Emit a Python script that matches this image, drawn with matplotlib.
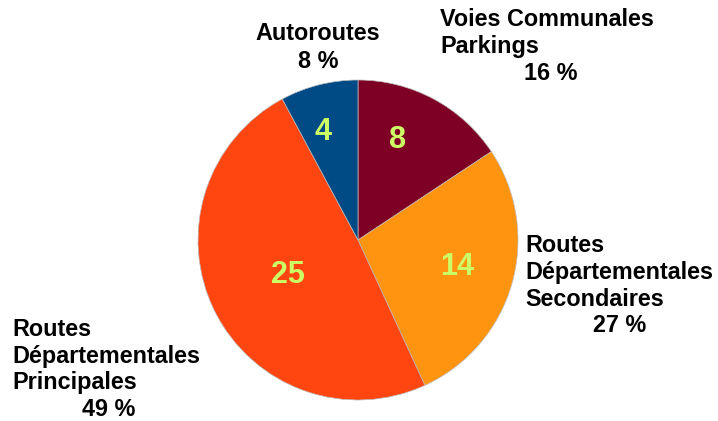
import matplotlib
matplotlib.use("Agg")
import matplotlib.pyplot as plt

# Data
categories = ["Voies Communales\nParkings",
              "Routes\nDépartementales\nSecondaires",
              "Routes\nDépartementales\nPrincipales",
              "Autoroutes"]
counts = [8, 14, 25, 4]
colors = ["#7F0025", "#FF9411", "#FF4510", "#004A85"]

W, H = 718, 421
plt.rcParams["font.family"] = ["Liberation Sans", "DejaVu Sans"]


def px(x, y):
    # pixel coords (origin top-left) -> data coords
    return x, H - y


fig = plt.figure(figsize=(W / 100, H / 100), dpi=100)
ax = fig.add_axes([0, 0, 1, 1])
ax.set_aspect("equal")
ax.axis("off")

ax.pie(counts, colors=colors, startangle=90, counterclock=False,
       center=px(358, 240), radius=160,
       wedgeprops=dict(linewidth=0.5, edgecolor="#bbbbbb"))
ax.set_xlim(0, W)
ax.set_ylim(0, H)

total = sum(counts)
pcts = [round(100 * c / total) for c in counts]

# value labels inside slices
value_pos = [(398, 140), (457, 267), (288, 275), (323, 132)]
for (x, y), c in zip(value_pos, counts):
    ax.text(*px(x, y), str(c), color="#CCFF66", fontsize=22,
            fontweight="bold", ha="center", va="center")

# category labels: one line per row, then the percentage
FS = 16.8
STEP = 27
label_pos = [(440, 20), (525, 245), (12, 329), (318, 34)]
pct_x = [551, 620, 109, 318]
for i, (name, p) in enumerate(zip(categories, pcts)):
    x, y = label_pos[i]
    ha = "center" if i == 3 else "left"
    lines = name.split("\n")
    for k, line in enumerate(lines):
        ax.text(*px(x, y + k * STEP), line, fontsize=FS, fontweight="bold",
                ha=ha, va="center")
    ax.text(*px(pct_x[i], y + len(lines) * STEP), f"{p} %", fontsize=FS,
            fontweight="bold", ha="center", va="center")

fig.savefig("out.png", dpi=100)
